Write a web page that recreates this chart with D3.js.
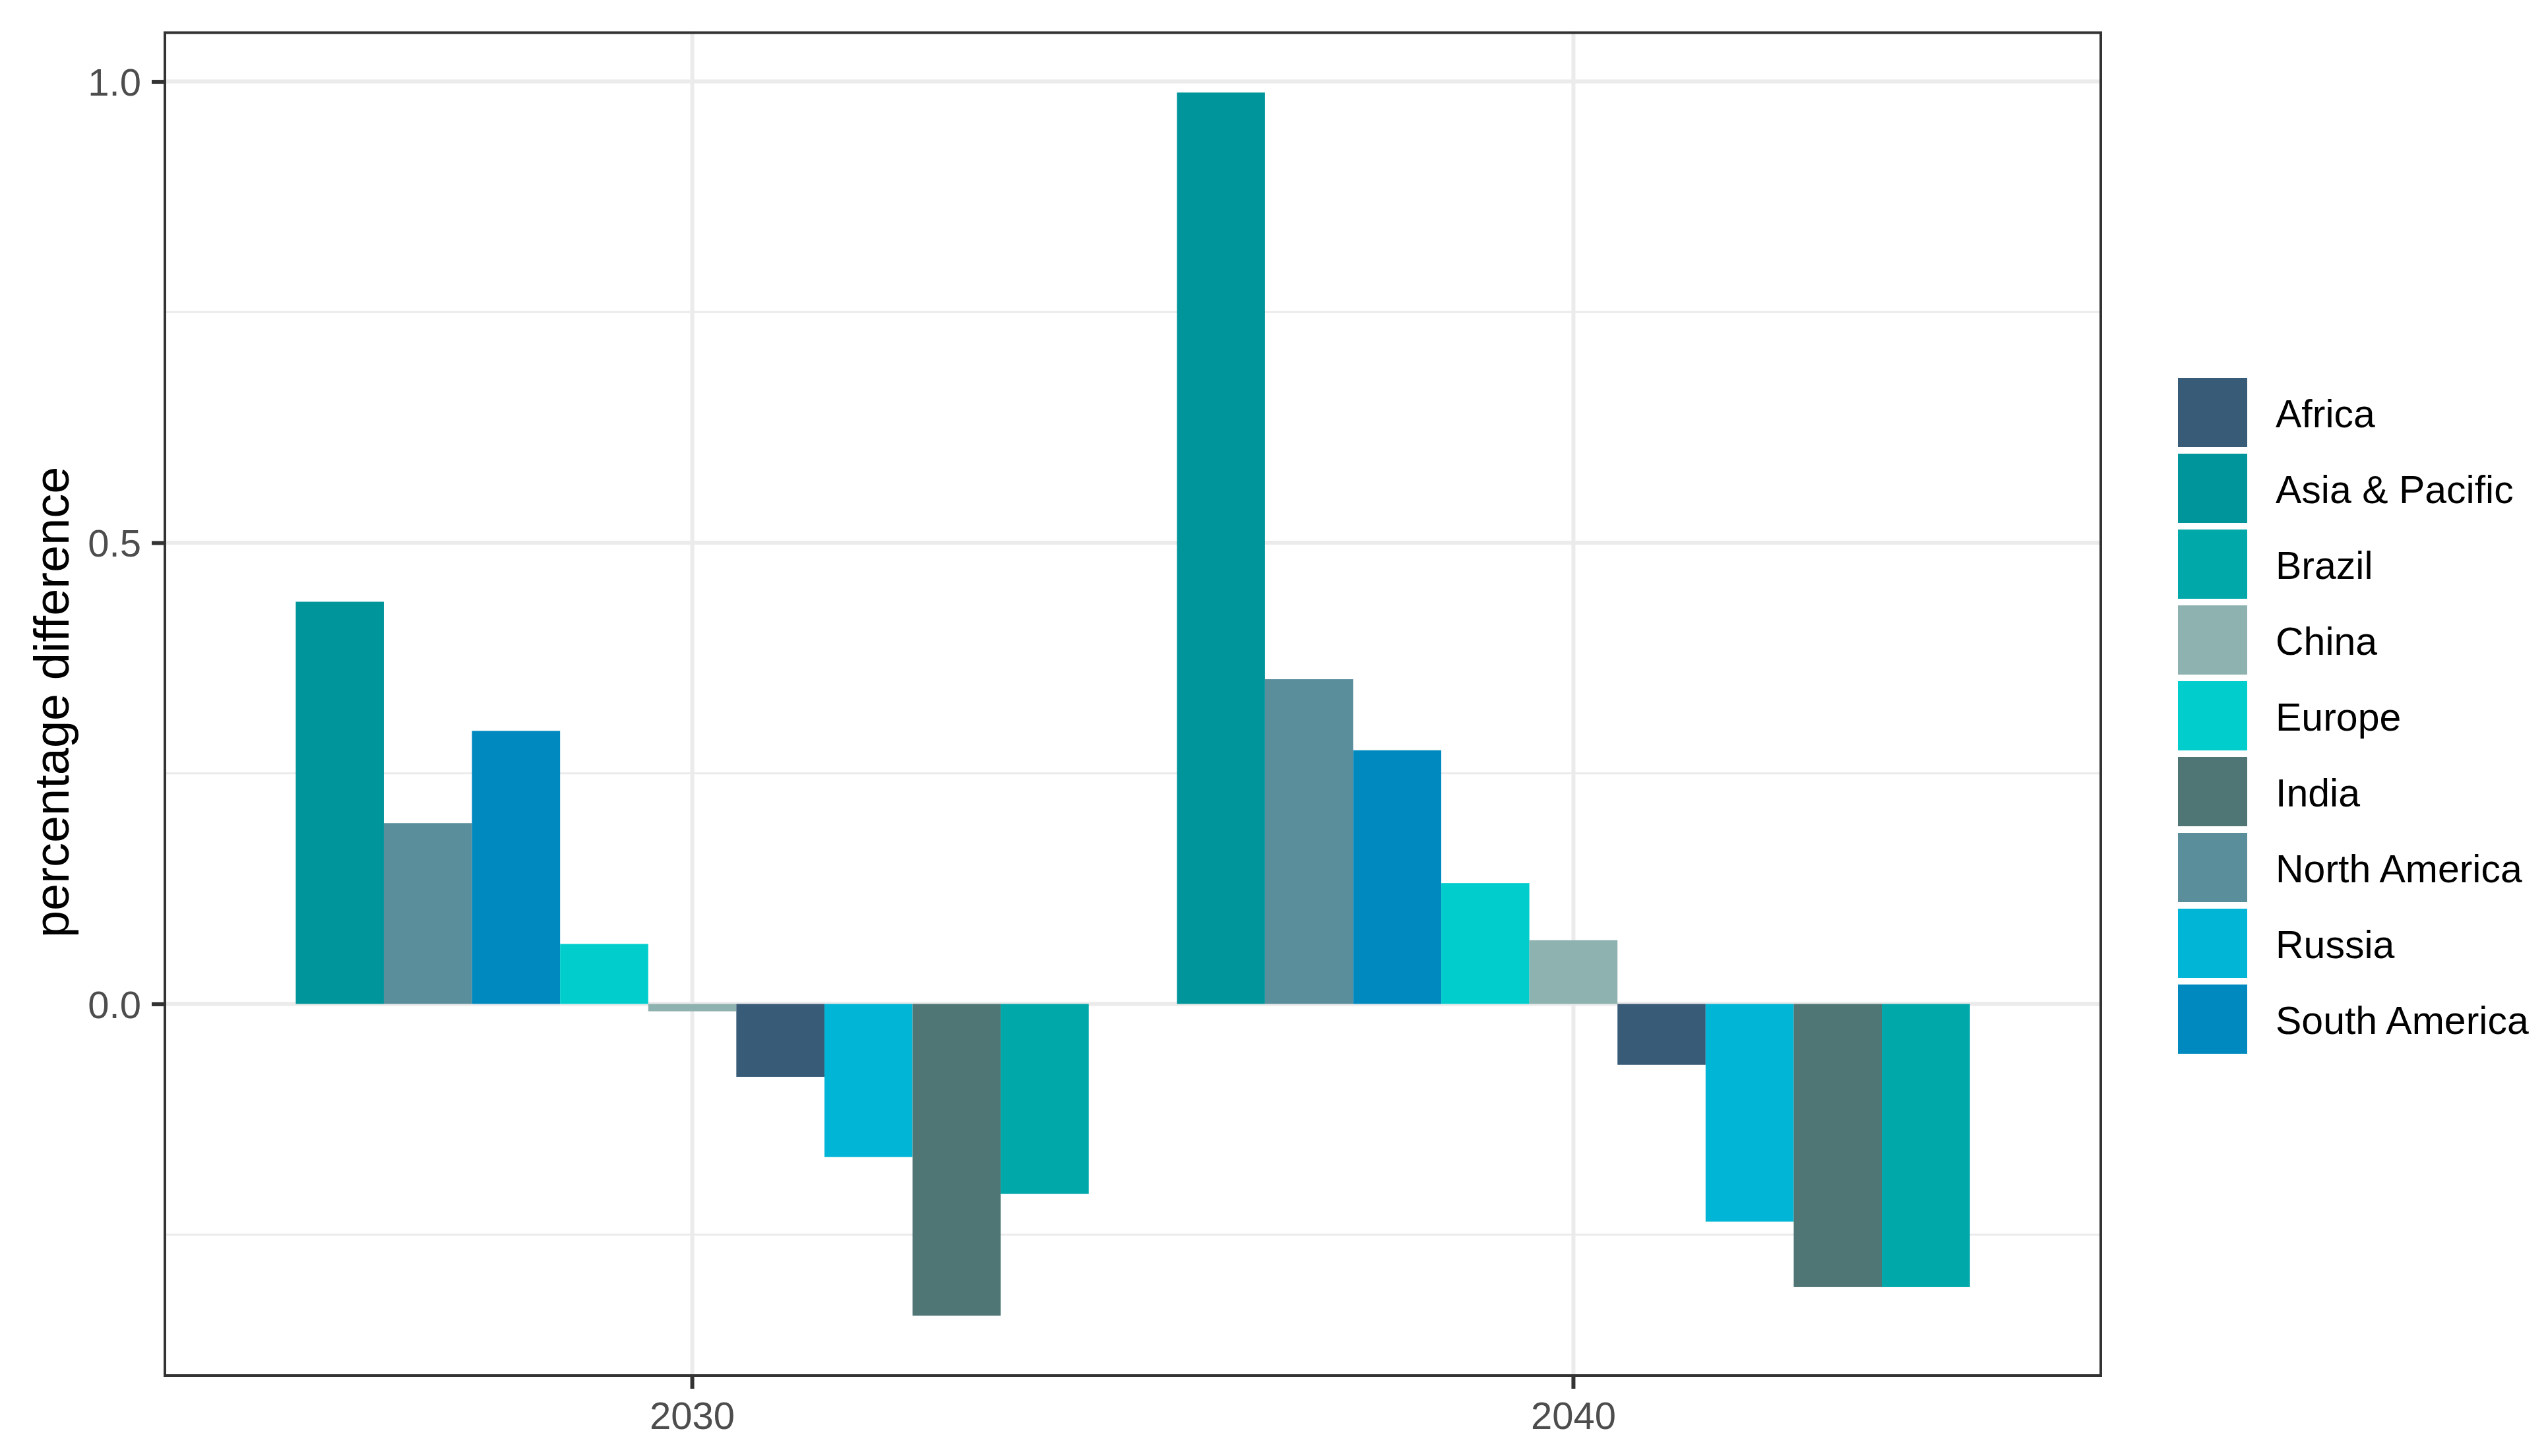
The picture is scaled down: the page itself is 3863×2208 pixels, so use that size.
<!DOCTYPE html>
<html><head><meta charset="utf-8">
<script src="https://cdn.jsdelivr.net/npm/d3@7"></script>
<style>html,body{margin:0;padding:0;background:#fff}svg{display:block}</style>
</head><body>
<script>
// ---- data ----
const years = ["2030", "2040"];
const barOrder = ["Asia & Pacific", "North America", "South America", "Europe", "China", "Africa", "Russia", "India", "Brazil"];
const values2030 = [0.436, 0.196, 0.296, 0.065, -0.008, -0.079, -0.166, -0.338, -0.206];
const values2040 = [0.988, 0.352, 0.275, 0.131, 0.069, -0.066, -0.236, -0.307, -0.307];
const legendRegions = ["Africa", "Asia & Pacific", "Brazil", "China", "Europe", "India", "North America", "Russia", "South America"];
const regionColors = ["#385B78", "#00959B", "#00A8AA", "#8EB2AF", "#00CDCC", "#4F7674", "#5A8E9B", "#00B5D6", "#0089BF"];
const yMajorTicks = [0, 0.5, 1.0];
const yMinorTicks = [-0.25, 0.25, 0.75];
const yTitle = "percentage difference";

// ---- layout ----
const W = 3863, H = 2208;
const P = {left: 248, right: 3187, top: 47.6, bottom: 2088};
const FONT = "'Liberation Sans', Arial, sans-serif";

const rows = [];
years.forEach((yr, i) => {
  const vals = i === 0 ? values2030 : values2040;
  barOrder.forEach((r, j) => rows.push({year: yr, region: r, value: vals[j]}));
});

const svg = d3.select("body").append("svg").attr("width", W).attr("height", H);
svg.append("rect").attr("width", W).attr("height", H).attr("fill", "#fff");

// y scale with ggplot-style 5% expansion
const ext = d3.extent(rows, d => d.value);
const pad = (ext[1] - ext[0]) * 0.05;
const y = d3.scaleLinear().domain([ext[0] - pad, ext[1] + pad]).range([P.bottom, P.top]);

// x: discrete with 0.6 unit additive expansion, bar width 0.9
const x = d3.scaleBand().domain(years).range([P.left, P.right]).paddingInner(0.1).paddingOuter(0.15);
const xi = d3.scaleBand().domain(barOrder).range([0, x.bandwidth()]);
const color = d3.scaleOrdinal().domain(legendRegions).range(regionColors);

const g = svg.append("g");
svg.append("defs").append("clipPath").attr("id", "panel")
  .append("rect").attr("x", P.left).attr("y", P.top).attr("width", P.right - P.left).attr("height", P.bottom - P.top);

const grid = g.append("g").attr("clip-path", "url(#panel)");
grid.selectAll("line.minor").data(yMinorTicks).join("line")
  .attr("x1", P.left).attr("x2", P.right).attr("y1", d => y(d)).attr("y2", d => y(d))
  .attr("stroke", "#EBEBEB").attr("stroke-width", 3);
grid.selectAll("line.majy").data(yMajorTicks).join("line")
  .attr("x1", P.left).attr("x2", P.right).attr("y1", d => y(d)).attr("y2", d => y(d))
  .attr("stroke", "#EBEBEB").attr("stroke-width", 6);
grid.selectAll("line.majx").data(years).join("line")
  .attr("y1", P.top).attr("y2", P.bottom)
  .attr("x1", d => x(d) + x.bandwidth() / 2).attr("x2", d => x(d) + x.bandwidth() / 2)
  .attr("stroke", "#EBEBEB").attr("stroke-width", 6);

// bars
g.append("g").selectAll("rect").data(rows).join("rect")
  .attr("x", d => x(d.year) + xi(d.region))
  .attr("width", xi.bandwidth())
  .attr("y", d => y(Math.max(0, d.value)))
  .attr("height", d => Math.abs(y(d.value) - y(0)))
  .attr("fill", d => color(d.region));

// panel border (clipped, half visible like ggplot)
g.append("rect").attr("clip-path", "url(#panel)")
  .attr("x", P.left).attr("y", P.top).attr("width", P.right - P.left).attr("height", P.bottom - P.top)
  .attr("fill", "none").attr("stroke", "#333333").attr("stroke-width", 8);

// axes
const yAxis = d3.axisLeft(y).tickValues(yMajorTicks).tickFormat(d3.format(".1f")).tickSize(18).tickPadding(16);
const ya = svg.append("g").attr("transform", `translate(${P.left},0)`).call(yAxis);
ya.select(".domain").remove();
ya.selectAll(".tick line").attr("stroke", "#333333").attr("stroke-width", 6);
ya.selectAll(".tick text").attr("fill", "#4D4D4D").attr("font-family", FONT).attr("font-size", 58).attr("dy", "0.36em");

const xAxis = d3.axisBottom(x).tickSize(18).tickPadding(20);
const xa = svg.append("g").attr("transform", `translate(0,${P.bottom})`).call(xAxis);
xa.select(".domain").remove();
xa.selectAll(".tick line").attr("stroke", "#333333").attr("stroke-width", 6);
xa.selectAll(".tick text").attr("fill", "#4D4D4D").attr("font-family", FONT).attr("font-size", 58).attr("dy", "0.71em");

// y title
svg.append("text")
  .attr("transform", `translate(104,${(P.top + P.bottom) / 2 - 3}) rotate(-90)`)
  .attr("text-anchor", "middle").attr("font-family", FONT).attr("font-size", 74).attr("fill", "#000")
  .text(yTitle);

// legend
const LX = 3302, LY = 573, KW = 105, KH = 105, STEP = 115;
const lg = svg.append("g");
const items = lg.selectAll("g").data(legendRegions).join("g")
  .attr("transform", (d, i) => `translate(${LX},${LY + i * STEP})`);
items.append("rect").attr("width", KW).attr("height", KH).attr("fill", d => color(d));
items.append("text").attr("x", 148).attr("y", KH / 2).attr("dy", "0.38em")
  .attr("font-family", FONT).attr("font-size", 59).attr("fill", "#000").text(d => d);
</script>
</body></html>
